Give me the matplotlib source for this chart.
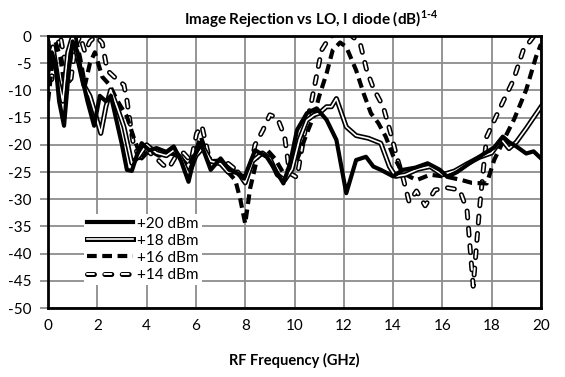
import matplotlib
matplotlib.use("Agg")
import matplotlib.pyplot as plt
import matplotlib.patheffects as pe

plt.rcParams['font.family'] = ['Lato', 'DejaVu Sans']
plt.rcParams['axes.unicode_minus'] = False
plt.rcParams['lines.scale_dashes'] = False
plt.rcParams['mathtext.fontset'] = 'custom'
plt.rcParams['mathtext.rm'] = 'Lato:bold'
plt.rcParams['mathtext.bf'] = 'Lato:bold'

# +20 dBm (solid)
f20 = [0, 0.15, 0.3, 0.45, 0.65, 0.85, 1.0, 1.2, 1.4, 1.6, 1.87, 2.1, 2.35, 2.55, 2.75, 3.0, 3.2,
       3.4, 3.6, 3.8, 4.1, 4.4, 4.8, 5.1, 5.4, 5.7, 5.95, 6.2, 6.6, 7.0, 7.35, 7.6, 7.95, 8.4, 8.87,
       9.3, 9.55, 9.82, 10.1, 10.5, 10.9, 11.3, 11.7, 12.1, 12.5, 12.9, 13.2, 13.5, 14.0, 14.4,
       14.9, 15.4, 15.9, 16.2, 16.6, 17.1, 17.7, 18.1, 18.45, 18.7, 19.0, 19.4, 19.7, 20.0]
v20 = [-7, -3, -5, -12, -16.5, -6, -1, -3, -8, -12, -16.5, -11, -12, -11, -15, -20, -24.6,
       -24.8, -22, -19.7, -21, -20.6, -21.3, -20.3, -23, -26.8, -22, -19.7, -24.6, -22.5, -24.6,
       -25, -26.2, -21, -22.2, -25.2, -27.1, -23.4, -17.3, -14.2, -13.3, -15.4, -19.1, -28.9,
       -22.8, -22.2, -24, -24.6, -25.8, -24.6, -24.2, -23.4, -24.6, -25.9, -25, -23.4, -21.6,
       -20.5, -18.5, -19.5, -20.3, -21.6, -21.2, -22.5]

# +18 dBm (hollow solid)
f18 = [0, 0.2, 0.4, 0.6, 0.8, 1.0, 1.2, 1.45, 1.7, 1.9, 2.14, 2.35, 2.54, 2.8, 3.08, 3.4, 3.7,
       4.0, 4.4, 4.8, 5.1, 5.4, 5.7, 6.0, 6.3, 6.6, 7.0, 7.3, 7.7, 8.0, 8.3, 8.7, 9.0, 9.3, 9.6,
       9.9, 10.2, 10.5, 10.8, 11.0, 11.3, 11.5, 11.7, 12.1, 12.5, 13.0, 13.5, 13.85, 14.1, 14.5,
       15.0, 15.5, 16.0, 16.5, 17.0, 17.5, 18.0, 18.4, 18.7, 19.0, 19.4, 19.7, 20.0]
v18 = [-5, -2, -8, -12, -3, 0, -4, -9, -11, -14, -17.9, -13, -9.9, -13, -16.7, -23.4, -22,
       -20, -21.5, -22, -21, -22.5, -25.5, -22, -20.5, -23, -23.5, -25, -25, -27, -23, -21.5,
       -22.5, -25.5, -26.5, -24.5, -19, -15.5, -14.5, -14.2, -13, -13, -11.5, -16.7, -18.3,
       -18.8, -19.7, -24, -25.8, -25.5, -24.5, -24, -25.5, -24.8, -23.5, -22.3, -21.5, -19,
       -20.7, -19.5, -17, -15, -13]

# +16 dBm (dashed)
f16 = [0, 0.15, 0.3, 0.5, 0.7, 0.9, 1.1, 1.3, 1.5, 1.7, 1.9, 2.2, 2.5, 2.8, 3.2, 3.5, 3.8, 4.1,
       4.5, 4.9, 5.3, 5.7, 6.0, 6.2, 6.5, 6.9, 7.3, 7.6, 7.8, 8.0, 8.2, 8.5, 8.9, 9.2, 9.55, 9.8,
       10.1, 10.5, 10.8, 11.0, 11.3, 11.55, 11.85, 12.1, 12.5, 12.8, 13.1, 13.4, 13.7, 14.0,
       14.4, 14.95, 15.5, 16.2, 16.8, 17.2, 17.8, 18.1, 18.5, 18.9, 19.4, 19.8, 20.0]
v16 = [-12, -6, -1, -4, -10, -2, 0, -4, -9, -5, -3, -7.5, -9, -11.8, -14.8, -19, -22.5, -21,
       -22, -21.5, -22, -24, -21, -18.5, -22.5, -23, -25, -26.5, -30, -34.5, -28, -22.2, -21,
       -22.5, -25.2, -24.5, -22.8, -17.9, -14.5, -11.1, -6.9, -2.6, -1.2, -2, -6.3, -10.5,
       -14.2, -16, -18.5, -22, -25.2, -26.5, -25.5, -25.9, -26.5, -27, -27.1, -22.8, -19,
       -15.4, -9.9, -3.8, -1.5]

# +14 dBm (hollow dashed)
f14 = [0, 0.15, 0.3, 0.5, 0.7, 0.9, 1.1, 1.3, 1.5, 1.7, 1.95, 2.2, 2.4, 2.68, 3.08, 3.2, 3.3,
       3.45, 3.7, 4.0, 4.4, 4.67, 4.9, 5.2, 5.5, 5.8, 6.03, 6.24, 6.57, 6.9, 7.27, 7.6, 7.9,
       8.15, 8.4, 8.72, 9.0, 9.3, 9.6, 9.8, 10.1, 10.4, 10.7, 11.1, 11.44, 11.8, 12.2, 12.66,
       12.93, 13.2, 13.6, 13.94, 14.15, 14.4, 14.65, 14.95, 15.3, 15.7, 16.2, 16.7, 17.0,
       17.25, 17.5, 17.66, 17.8, 18.3, 18.88, 19.28, 19.7, 20.0]
v14 = [-1, -8, -3, 0, -5, -9, -2, 0, -3, -1, 0, -1.3, -6.3, -7.5, -9, -11.8, -15, -19.5,
       -22.5, -21, -22.5, -23.7, -24.3, -22, -21.5, -23, -17.9, -16.5, -23.1, -23, -23.3,
       -24.5, -26, -25.5, -20, -17.3, -14.5, -15, -18.5, -25.2, -26, -18, -11.8, -2.6, -0.1,
       0.5, 0.5, -1.3, -6.3, -9.6, -13, -18.5, -22.2, -26, -30.5, -28.5, -31.2, -28.3, -27.9,
       -28.3, -32, -46, -32, -24.6, -18.5, -13.6, -8.1, -2.6, -0.1, 1]

xticks = list(range(0, 21, 2))
yticks = list(range(-50, 1, 5))

fig = plt.figure(figsize=(5.65, 3.77), dpi=100)
ax = fig.add_axes([0.085, 0.183, 0.8725, 0.7215])

hollow = [pe.Stroke(linewidth=3.6, foreground='black'), pe.Normal()]

l14, = ax.plot(f14, v14, color='white', lw=1.4, dashes=(5, 7.5), dash_capstyle='round',
               solid_joinstyle='round', path_effects=hollow, label='+14 dBm')
l16, = ax.plot(f16, v16, color='black', lw=3, dashes=(7, 4), label='+16 dBm')
l18, = ax.plot(f18, v18, color='white', lw=1.2, path_effects=hollow, label='+18 dBm')
l20, = ax.plot(f20, v20, color='black', lw=3, label='+20 dBm')

ax.set_xlim(0, 20)
ax.set_ylim(-50, 0)
ax.set_xticks(xticks)
ax.set_yticks(yticks)
ax.grid(True, color='#8c8c8c', lw=1.3)
ax.set_axisbelow(True)
ax.tick_params(axis='x', length=0, pad=8, labelsize=11)
ax.tick_params(axis='y', length=6, color='#8c8c8c', width=1.3, pad=6, labelsize=11)
for s in ax.spines.values():
    s.set_linewidth(2)
    s.set_color('black')

ax.set_title('Image Rejection vs LO, I diode (dB)$^{\\text{1-4}}$', fontsize=11,
             fontweight='bold', pad=8, x=0.534)
ax.set_xlabel('RF Frequency (GHz)', fontsize=10.5, fontweight='bold', labelpad=14)

leg = ax.legend(handles=[l20, l18, l16, l14], loc='upper left', bbox_to_anchor=(0.058, 0.375),
                frameon=True, fontsize=11, handlelength=3.0, handletextpad=0.25,
                labelspacing=0.2, borderpad=0.2, fancybox=False)
leg.get_frame().set_edgecolor('none')
leg.get_frame().set_facecolor('white')
leg.get_frame().set_alpha(1)

fig.savefig('out.png', dpi=100)
